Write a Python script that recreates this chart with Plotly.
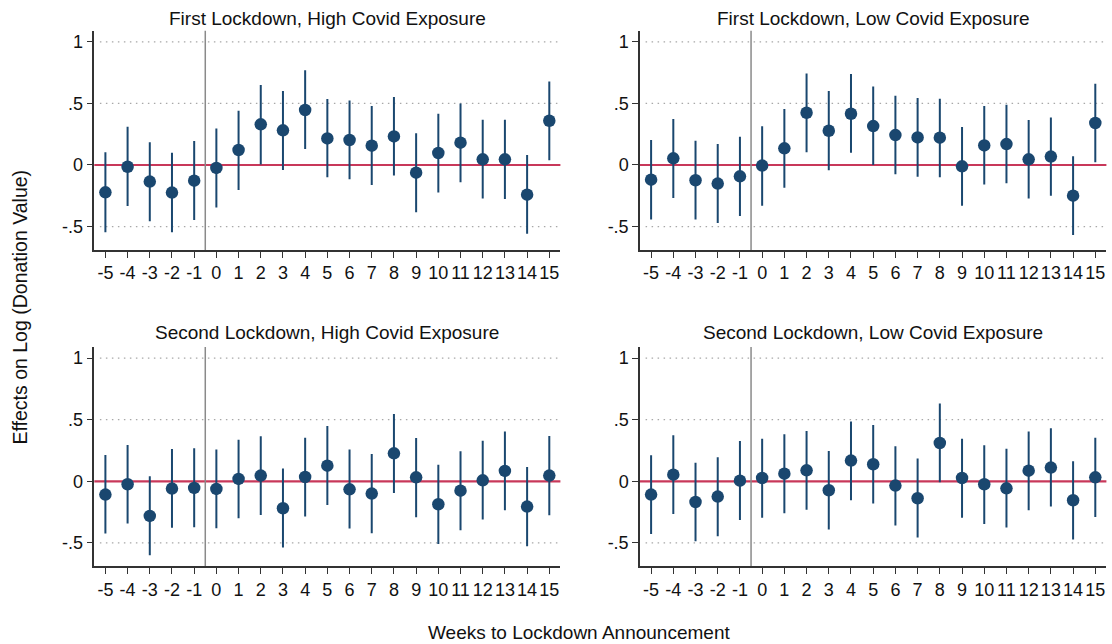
import plotly.graph_objects as go

weeks = list(range(-5, 16))

# First Lockdown, High Covid Exposure
fh_est = [-0.222, -0.014, -0.135, -0.224, -0.127, -0.024, 0.122, 0.330, 0.281, 0.446, 0.216,
          0.203, 0.157, 0.232, -0.062, 0.097, 0.181, 0.046, 0.046, -0.241, 0.359]
fh_lo = [-0.546, -0.332, -0.457, -0.546, -0.446, -0.346, -0.203, 0.003, -0.041, 0.130, -0.100,
         -0.116, -0.162, -0.086, -0.384, -0.224, -0.140, -0.273, -0.276, -0.559, 0.038]
fh_hi = [0.103, 0.311, 0.184, 0.100, 0.195, 0.297, 0.440, 0.649, 0.600, 0.768, 0.535,
         0.524, 0.478, 0.551, 0.257, 0.416, 0.500, 0.368, 0.368, 0.081, 0.678]

# First Lockdown, Low Covid Exposure
fl_est = [-0.119, 0.054, -0.124, -0.151, -0.092, -0.005, 0.135, 0.424, 0.278, 0.416, 0.316,
          0.243, 0.224, 0.222, -0.011, 0.159, 0.170, 0.046, 0.068, -0.249, 0.341]
fl_lo = [-0.443, -0.268, -0.443, -0.470, -0.414, -0.330, -0.184, 0.103, -0.043, 0.100, 0.000,
         -0.076, -0.095, -0.100, -0.330, -0.159, -0.149, -0.273, -0.249, -0.568, 0.022]
fl_hi = [0.203, 0.373, 0.197, 0.170, 0.230, 0.314, 0.454, 0.743, 0.600, 0.738, 0.638,
         0.562, 0.543, 0.538, 0.308, 0.478, 0.489, 0.365, 0.386, 0.070, 0.659]

# Second Lockdown, High Covid Exposure
sh_est = [-0.108, -0.024, -0.281, -0.059, -0.054, -0.062, 0.019, 0.046, -0.219, 0.035, 0.127,
          -0.065, -0.100, 0.227, 0.032, -0.186, -0.076, 0.008, 0.084, -0.205, 0.046]
sh_lo = [-0.424, -0.343, -0.600, -0.378, -0.373, -0.381, -0.300, -0.273, -0.538, -0.286, -0.192,
         -0.384, -0.422, -0.095, -0.292, -0.508, -0.397, -0.311, -0.235, -0.527, -0.276]
sh_hi = [0.214, 0.295, 0.041, 0.262, 0.268, 0.259, 0.338, 0.365, 0.103, 0.354, 0.449,
         0.259, 0.222, 0.546, 0.351, 0.135, 0.243, 0.330, 0.405, 0.116, 0.368]

# Second Lockdown, Low Covid Exposure
sl_est = [-0.108, 0.054, -0.168, -0.124, 0.005, 0.027, 0.062, 0.089, -0.073, 0.168, 0.138,
          -0.035, -0.138, 0.311, 0.027, -0.024, -0.057, 0.086, 0.111, -0.154, 0.032]
sl_lo = [-0.427, -0.265, -0.486, -0.446, -0.314, -0.295, -0.259, -0.230, -0.392, -0.154, -0.181,
         -0.359, -0.457, -0.008, -0.295, -0.346, -0.376, -0.235, -0.205, -0.473, -0.289]
sl_hi = [0.211, 0.373, 0.151, 0.195, 0.327, 0.346, 0.381, 0.408, 0.246, 0.486, 0.457,
         0.284, 0.184, 0.632, 0.346, 0.292, 0.265, 0.405, 0.430, 0.162, 0.354]

titles = ["First Lockdown, High Covid Exposure", "First Lockdown, Low Covid Exposure",
          "Second Lockdown, High Covid Exposure", "Second Lockdown, Low Covid Exposure"]
ytick_vals = [-0.5, 0, 0.5, 1]
ytick_text = ["-.5", "0", ".5", "1"]
xtick_vals = weeks
xtick_text = [str(w) for w in weeks]
x_title = "Weeks to Lockdown Announcement"
y_title = "Effects on Log (Donation Value)"
event_line = -0.5
ref_line = 0

NAVY = "#1a476f"
RED = "#c8385a"
FONT = "Liberation Sans, Arial, sans-serif"
W, H = 1112, 644

panels = [(fh_est, fh_lo, fh_hi), (fl_est, fl_lo, fl_hi),
          (sh_est, sh_lo, sh_hi), (sl_est, sl_lo, sl_hi)]

xdoms = [[94.3 / W, 560.4 / W], [640.0 / W, 1106.4 / W]]
ydoms = [[1 - 250.0 / H, 1 - 30.7 / H], [1 - 566.3 / H, 1 - 347.0 / H]]
title_y = [1 - 18.0 / H, 1 - 333.0 / H]

fig = go.Figure()
layout = dict(width=W, height=H, margin=dict(l=0, r=0, t=0, b=0),
              plot_bgcolor="white", paper_bgcolor="white", showlegend=False,
              font=dict(family=FONT, color="#111111"))
shapes = []
annotations = []

for i, (est, lo, hi) in enumerate(panels):
    r, c = divmod(i, 2)
    n = i + 1
    xa = "x" if n == 1 else f"x{n}"
    ya = "y" if n == 1 else f"y{n}"
    plus = [h - e for h, e in zip(hi, est)]
    minus = [e - l for e, l in zip(est, lo)]
    fig.add_trace(go.Scatter(
        x=weeks, y=est, mode="markers", xaxis=xa, yaxis=ya,
        marker=dict(color=NAVY, size=12.5),
        error_y=dict(type="data", symmetric=False, array=plus, arrayminus=minus,
                     color=NAVY, thickness=2, width=0),
    ))
    xkey = "xaxis" if n == 1 else f"xaxis{n}"
    ykey = "yaxis" if n == 1 else f"yaxis{n}"
    layout[xkey] = dict(domain=xdoms[c], anchor=ya, range=[-5.5, 15.5],
                        tickvals=xtick_vals, ticktext=xtick_text,
                        showline=True, linecolor="#333333", linewidth=1.5,
                        ticks="outside", ticklen=6, tickcolor="#333333", tickwidth=1,
                        showgrid=False, zeroline=False,
                        tickfont=dict(size=18, family=FONT, color="#111111"))
    layout[ykey] = dict(domain=ydoms[r], anchor=xa, range=[-0.69, 1.09],
                        tickvals=ytick_vals, ticktext=ytick_text,
                        showline=True, linecolor="#333333", linewidth=1.5,
                        ticks="outside", ticklen=6, tickcolor="#333333", tickwidth=1,
                        showgrid=False, zeroline=False,
                        tickfont=dict(size=18, family=FONT, color="#111111"))
    # dotted gridlines at the non-zero ticks
    for v in ytick_vals:
        if v == ref_line:
            continue
        shapes.append(dict(type="line", xref=f"{xa} domain", yref=ya, x0=0.012, x1=1, y0=v, y1=v,
                           line=dict(color="#a8a8a8", width=1.2, dash="1.5px,4.5px"),
                           layer="below"))
    shapes.append(dict(type="line", xref=f"{xa} domain", yref=ya, x0=0, x1=1,
                       y0=ref_line, y1=ref_line,
                       line=dict(color=RED, width=2.2), layer="below"))
    shapes.append(dict(type="line", xref=xa, yref=f"{ya} domain", x0=event_line, x1=event_line,
                       y0=0, y1=1, line=dict(color="#8a8a8a", width=1.5), layer="below"))
    annotations.append(dict(text=titles[i], xref="paper", yref="paper",
                            x=(xdoms[c][0] + xdoms[c][1]) / 2, y=title_y[r],
                            xanchor="center", yanchor="middle", showarrow=False,
                            font=dict(size=19, family=FONT, color="#111111")))

annotations.append(dict(text=y_title, xref="paper", yref="paper", x=19.0 / W, y=1 - 307.5 / H,
                        textangle=-90, xanchor="center", yanchor="middle", showarrow=False,
                        font=dict(size=19.5, family=FONT, color="#111111")))
annotations.append(dict(text=x_title, xref="paper", yref="paper", x=579.0 / W, y=1 - 632.0 / H,
                        xanchor="center", yanchor="middle", showarrow=False,
                        font=dict(size=19, family=FONT, color="#111111")))

layout["shapes"] = shapes
layout["annotations"] = annotations
fig.update_layout(**layout)
fig.write_html("out.html")
